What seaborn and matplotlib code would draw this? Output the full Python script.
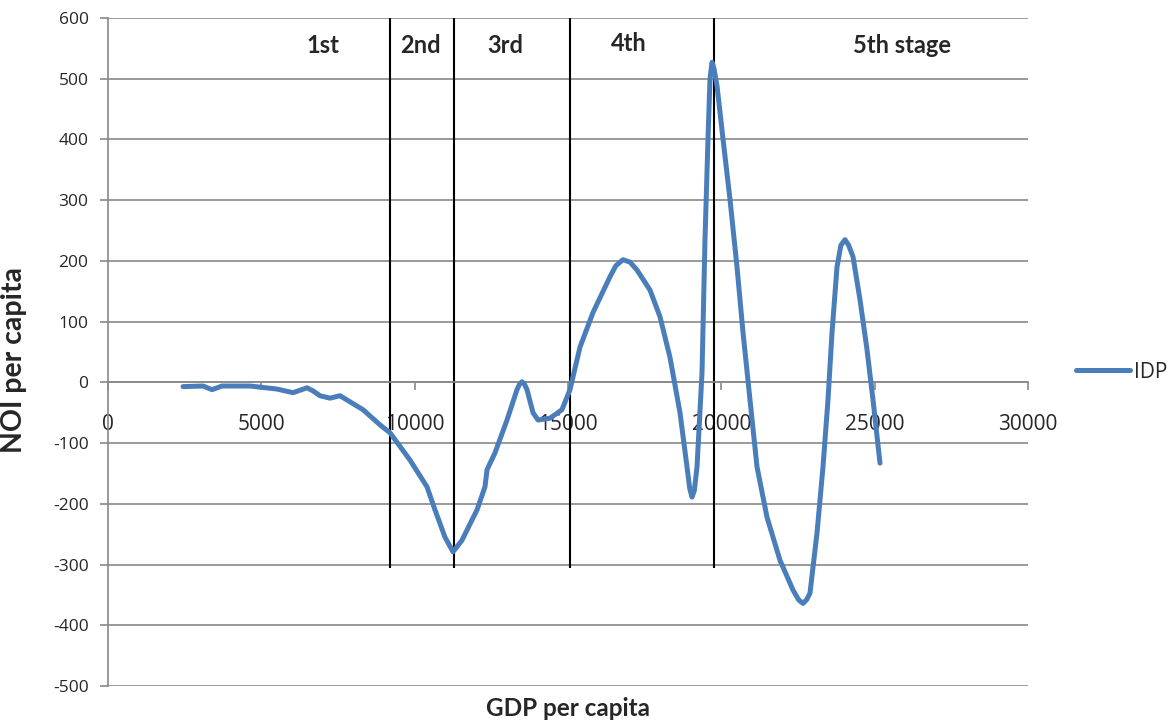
import matplotlib
matplotlib.use("Agg")
import matplotlib.pyplot as plt
import seaborn as sns
import pandas as pd
from matplotlib.lines import Line2D

# values
gdp = [2446, 3098, 3391, 3717, 4630, 5511, 6033, 6489, 6685, 6913, 7239, 7565,
       7891, 8315, 8870, 9196, 9848, 10402, 10663, 10989, 11250, 11543, 12033,
       12293, 12359, 12620, 13011, 13337, 13420, 13500, 13580, 13663, 13859,
       14022, 14413, 14804, 15065, 15391, 15815, 16370, 16560, 16793, 17020,
       17250, 17674, 18000, 18326, 18652, 18880, 18970, 19043, 19120, 19207,
       19370, 19467, 19565, 19630, 19696, 19760, 19860, 20054, 20283, 20511,
       20707, 20935, 21163, 21489, 21913, 22337, 22520, 22663, 22780, 22891,
       23120, 23315, 23478, 23609, 23772, 23900, 24033, 24150, 24293, 24522,
       24750, 24946, 25174]
noi = [-7, -6, -12, -6, -6, -11, -17, -9, -14, -22, -26, -22,
       -32, -45, -70, -83, -128, -172, -210, -255, -279, -260, -210,
       -172, -144, -116, -62, -12, -3, 1, -3, -12, -50,
       -62, -59, -45, -12, 58, 115, 174, 192, 202, 198,
       185, 152, 108, 41, -50, -139, -175, -189, -178, -139,
       16, 235, 401, 500, 527, 517, 488, 401, 301, 190,
       82, -29, -139, -222, -293, -342, -358, -364, -358, -347,
       -248, -139, -29, 82, 190, 226, 235, 226, 207, 136,
       54, -29, -133]

stage_bounds = [9200, 11280, 15070, 19760]
stage_names = ["1st", "2nd", "3rd", "4th", "5th stage"]
stage_label_x = [7000, 10200, 12950, 16990, 25900]

df = pd.DataFrame({"GDP per capita": gdp, "NOI per capita": noi})

sns.set_theme(style="white")
plt.rcParams["font.family"] = ["Open Sans", "DejaVu Sans"]
plt.rcParams["axes.unicode_minus"] = False

fig = plt.figure(figsize=(11.72, 7.2), dpi=100)
ax = fig.add_axes([108 / 1172, 1 - 686 / 720, 920 / 1172, 668 / 720])

grid_c = "#898989"
for v in range(-500, 601, 100):
    ax.axhline(v, color=grid_c, lw=1.2, zorder=0)

ax.vlines(stage_bounds, -305, 600, colors="black", lw=1.5, zorder=1)

sns.lineplot(data=df, x="GDP per capita", y="NOI per capita", sort=False,
             estimator=None, color="#4a7ebb", lw=3.6, ax=ax, zorder=3,
             solid_capstyle="round", solid_joinstyle="round")

for name, xp in zip(stage_names, stage_label_x):
    yy = 555 if name != "4th" else 558
    ax.text(xp, yy, name, ha="center", va="center", fontsize=17,
            fontweight="bold", family=["Lato", "DejaVu Sans"])

ax.set_xlim(0, 30000)
ax.set_ylim(-500, 600)
ax.set_xticks(range(0, 30001, 5000))
ax.set_yticks(range(-500, 601, 100))

for s in ["top", "right"]:
    ax.spines[s].set_visible(False)
ax.spines["left"].set_color(grid_c)
ax.spines["left"].set_linewidth(1.2)
ax.spines["bottom"].set_position(("data", 0))
ax.spines["bottom"].set_color(grid_c)
ax.spines["bottom"].set_linewidth(1.2)

ax.tick_params(axis="y", direction="out", length=6, width=1.2, color=grid_c,
               pad=8, labelsize=12.5, left=True)
ax.tick_params(axis="x", direction="out", length=6, width=1.2, color=grid_c,
               pad=17, labelsize=15, bottom=True)

ax.set_xlabel("")
ax.set_ylabel("")
fig.text(568 / 1172, 1 - 708 / 720, "GDP per capita", ha="center", va="center",
         fontsize=17.5, fontweight="bold", family=["Lato", "DejaVu Sans"])
fig.text(14 / 1172, 1 - 360 / 720, "NOI per capita", ha="center", va="center",
         rotation=90, fontsize=20.5, fontweight="bold",
         family=["Lato", "DejaVu Sans"])

handle = Line2D([0], [0], color="#4a7ebb", lw=3.6, solid_capstyle="round")
ax.legend([handle], ["IDP"], loc="center left", frameon=False,
          bbox_to_anchor=(1076 / 1172, 1 - 372 / 720),
          bbox_transform=fig.transFigure, fontsize=15, handlelength=2.6,
          handletextpad=0.2, borderaxespad=0, borderpad=0)

fig.savefig("out.png", dpi=100)
